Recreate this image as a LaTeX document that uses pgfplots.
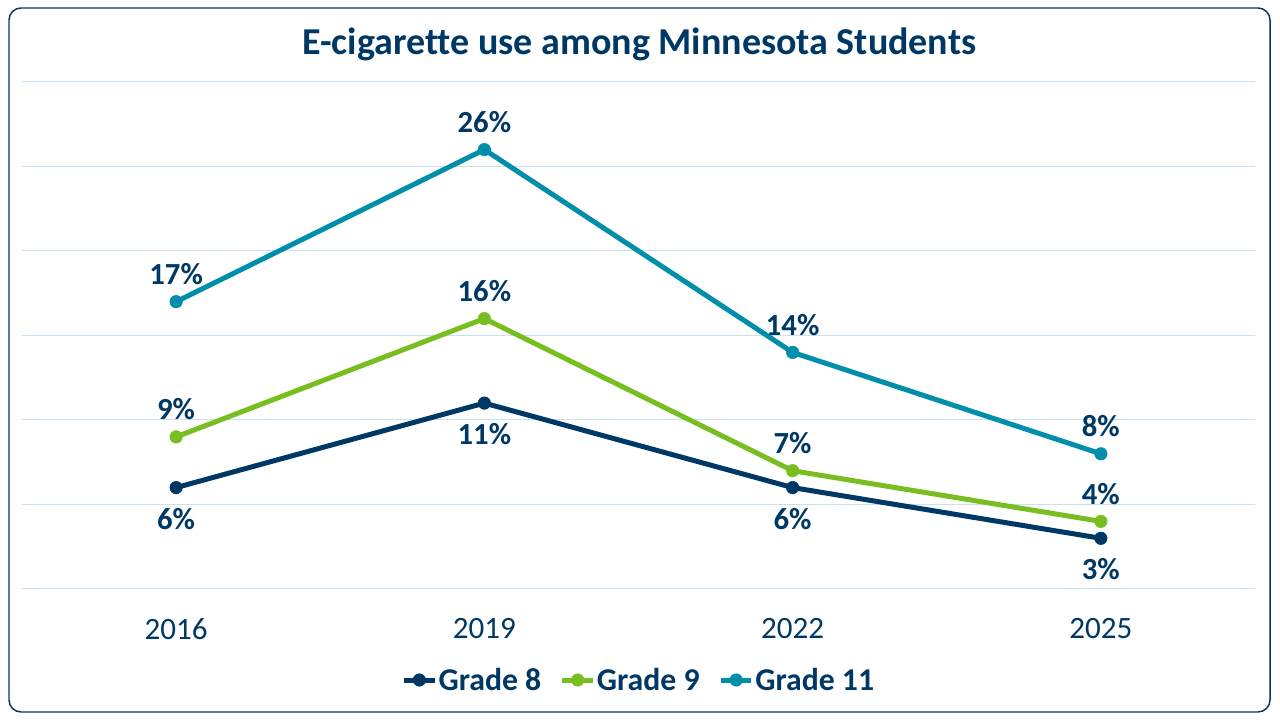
\documentclass[border=0pt]{standalone}
\usepackage{pgfplots}
\pgfplotsset{compat=1.18}
\usepackage{fontspec}
\setmainfont{Carlito}[Ligatures=NoCommon]

\definecolor{mnnavy}{HTML}{003865}
\definecolor{mngreen}{HTML}{78BE21}
\definecolor{mnteal}{HTML}{008EAA}
\definecolor{gridblue}{HTML}{C8E2F5}

\begin{document}
\begin{tikzpicture}
  % page frame and outer rounded border
  \path (0pt,0pt) rectangle (960pt,540pt);
  \draw[mnnavy, line width=1.1pt, rounded corners=9pt] (6.75pt,6pt) rectangle (952.5pt,534pt);

  % chart title
  \node[font=\fontsize{28.5}{32}\selectfont\bfseries, text=mnnavy] at (479.5pt,507pt)
    {E-cigarette use among Minnesota Students};

  \begin{axis}[
    at={(16.5pt,98.25pt)}, anchor=south west,
    scale only axis,
    width=924.75pt, height=380.25pt,
    xmin=-0.5, xmax=3.5,
    ymin=0, ymax=30,
    xtick={0,1,2,3},
    xticklabels={2016,2019,2022,2025},
    ytick={0,5,...,30},
    yticklabels={},
    ymajorgrids,
    grid style={gridblue, line width=0.75pt},
    major tick length=0pt,
    axis line style={draw=none},
    xticklabel style={font=\fontsize{23.3}{26}\selectfont, text=mnnavy, anchor=center, yshift=-30pt},
    /pgf/number format/assume math mode=true,
    every node near coord/.append style={font=\fontsize{23}{26}\selectfont\bfseries, text=mnnavy, anchor=center},
    nodes near coords={\pgfmathprintnumber{\pgfplotspointmeta}\%},
    legend columns=3,
    legend style={
      at={(0.5,-0.1795)}, anchor=center, draw=none, fill=none,
      font=\fontsize{23.8}{26}\selectfont\bfseries, text=mnnavy,
      inner xsep=0pt, inner ysep=0pt,
      /tikz/every even column/.append style={column sep=13pt},
      /tikz/every odd column/.append style={column sep=0pt},
      nodes={inner xsep=1pt},
    },
    legend image code/.code={
      \draw[mark repeat=2, mark phase=2, #1] plot coordinates {(0pt,0pt) (11.5pt,0pt) (23pt,0pt)};
    },
    every axis plot/.append style={line width=3.75pt, mark=*, mark size=4.7pt,
      mark options={solid, line width=0.4pt}},
  ]
    \addplot[color=mnnavy, every node near coord/.append style={yshift=-23.25pt}]
      coordinates {(0,6) (1,11) (2,6) (3,3)};
    \addlegendentry{Grade 8}
    \addplot[color=mngreen, every node near coord/.append style={yshift=20.6pt}]
      coordinates {(0,9) (1,16) (2,7) (3,4)};
    \addlegendentry{Grade 9}
    \addplot[color=mnteal, every node near coord/.append style={yshift=20.6pt}]
      coordinates {(0,17) (1,26) (2,14) (3,8)};
    \addlegendentry{Grade 11}
  \end{axis}
\end{tikzpicture}
\end{document}
